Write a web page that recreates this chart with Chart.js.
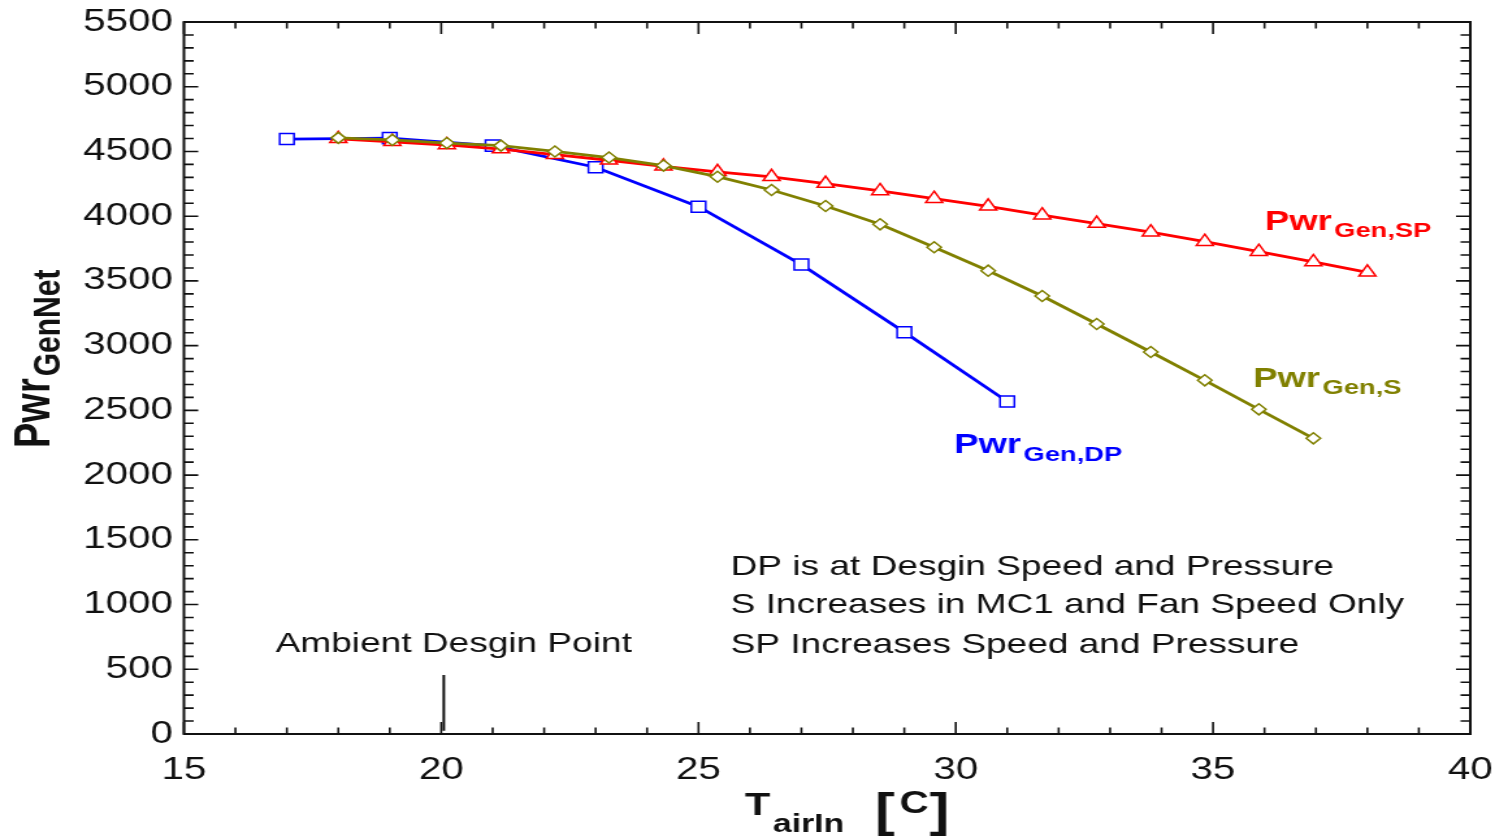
<!DOCTYPE html>
<html>
<head>
<meta charset="utf-8">
<script src="https://cdn.jsdelivr.net/npm/chart.js@4.4.1/dist/chart.umd.min.js"></script>
<style>
  html, body { margin: 0; padding: 0; background: #fff; overflow: hidden; }
  /* the reference is stretched sideways, so draw narrower and stretch */
  #wrap { width: 1152px; height: 837px; transform: scaleX(1.3); transform-origin: 0 0; }
</style>
</head>
<body>
<div id="wrap"><canvas id="pwrChart" width="1152" height="837"></canvas></div>
<script>
// air inlet temperature [C] and net generator power
const dpT = [17, 19, 21, 23, 25, 27, 29, 31];
const dpPwr = [4596, 4603, 4545, 4378, 4073, 3626, 3104, 2568];

const sT = [18, 19.05, 20.11, 21.16, 22.21, 23.26, 24.32, 25.37, 26.42, 27.47,
  28.53, 29.58, 30.63, 31.68, 32.74, 33.79, 34.84, 35.89, 36.95];
const sPwr = [4605, 4589, 4565, 4545, 4500, 4453, 4391, 4305, 4202, 4079,
  3937, 3760, 3579, 3383, 3167, 2951, 2732, 2508, 2284];

const spT = [18, 19.05, 20.11, 21.16, 22.21, 23.26, 24.32, 25.37, 26.42, 27.47,
  28.53, 29.58, 30.63, 31.68, 32.74, 33.79, 34.84, 35.89, 36.95, 38];
const spPwr = [4598, 4575, 4550, 4518, 4475, 4432, 4385, 4343, 4304, 4252,
  4195, 4135, 4076, 4008, 3943, 3876, 3803, 3726, 3647, 3566];

// ambient design point marker
const ambientT = [20.05, 20.05];
const ambientPwr = [25, 455];

const xTicks = [15, 20, 25, 30, 35, 40];
const yTicks = [0, 500, 1000, 1500, 2000, 2500, 3000, 3500, 4000, 4500, 5000, 5500];

const notes = [
  "DP is at Desgin Speed and Pressure",
  "S Increases in MC1 and Fan Speed Only",
  "SP Increases Speed and Pressure",
];

const FONT = '"Liberation Sans", Arial, sans-serif';

const toPts = (xs, ys) => xs.map((v, i) => ({ x: v, y: ys[i] }));

// text with a subscript, returns end x
const drawSub = (ctx, x, y, main, sub, mainSize, subSize, drop) => {
  ctx.font = `bold ${mainSize}px ${FONT}`;
  ctx.fillText(main, x, y);
  const w = ctx.measureText(main).width;
  ctx.font = `bold ${subSize}px ${FONT}`;
  ctx.fillText(sub, x + w + 2, y + drop);
  return x + w + 2 + ctx.measureText(sub).width;
};

const noPad = (s) => {
  s.paddingTop = 0;
  s.paddingBottom = 0;
  s.paddingLeft = 0;
  s.paddingRight = 0;
};

const frameAndText = {
  id: "frameAndText",
  afterDatasetsDraw(chart) {
    const { ctx, chartArea: a, scales } = chart;
    const x = scales.x, y = scales.y;
    ctx.save();
    ctx.strokeStyle = "#111";
    ctx.lineWidth = 1.6;

    // inward ticks on all four sides
    ctx.beginPath();
    for (let v = 15; v <= 40; v += 1) {
      const px = x.getPixelForValue(v);
      const len = v % 5 === 0 ? 12 : 6.5;
      ctx.moveTo(px, a.bottom); ctx.lineTo(px, a.bottom - len);
      ctx.moveTo(px, a.top); ctx.lineTo(px, a.top + len);
    }
    for (let v = 0; v <= 5500; v += 100) {
      const py = y.getPixelForValue(v);
      const len = v % 500 === 0 ? 11 : 7.5;
      ctx.moveTo(a.left, py); ctx.lineTo(a.left + len, py);
      ctx.moveTo(a.right, py); ctx.lineTo(a.right - len, py);
    }
    ctx.stroke();

    ctx.lineWidth = 2;
    ctx.strokeRect(a.left, a.top, a.right - a.left, a.bottom - a.top);

    ctx.textBaseline = "alphabetic";
    ctx.textAlign = "left";

    // curve labels
    ctx.fillStyle = "#ff0000";
    drawSub(ctx, 973, 230, "Pwr", "Gen,SP", 28, 21, 7);
    ctx.fillStyle = "#808000";
    drawSub(ctx, 964, 387, "Pwr", "Gen,S", 28, 21, 7);
    ctx.fillStyle = "#0000ff";
    drawSub(ctx, 734, 453, "Pwr", "Gen,DP", 28, 21, 8);

    // notes
    ctx.fillStyle = "#111";
    ctx.font = `28.5px ${FONT}`;
    ctx.fillText(notes[0], 562, 575);
    ctx.fillText(notes[1], 562, 613);
    ctx.fillText(notes[2], 562, 653);
    ctx.fillText("Ambient Desgin Point", 212, 652);

    // x axis title
    drawSub(ctx, 573, 815, "T", "airIn", 32, 26, 17);
    ctx.font = `bold 46px ${FONT}`;
    ctx.fillText("[", 673, 826);
    ctx.font = `bold 31px ${FONT}`;
    ctx.fillText("C", 692, 813);
    ctx.font = `bold 46px ${FONT}`;
    ctx.fillText("]", 715, 826);

    // y axis title
    ctx.save();
    ctx.translate(38, 448);
    ctx.rotate(-Math.PI / 2);
    drawSub(ctx, 0, 0, "Pwr", "GenNet", 38, 30, 8);
    ctx.restore();

    ctx.restore();
  },
};

const ctx = document.getElementById("pwrChart");

new Chart(ctx, {
  type: "scatter",
  data: {
    datasets: [
      {
        label: "PwrGen,S",
        data: toPts(sT, sPwr),
        showLine: true,
        borderColor: "#808000",
        borderWidth: 2.8,
        pointStyle: "rectRot",
        pointRadius: 5.5,
        pointBorderWidth: 1.5,
        pointBackgroundColor: "#ffffff",
        pointBorderColor: "#808000",
        order: 0,
      },
      {
        label: "PwrGen,SP",
        data: toPts(spT, spPwr),
        showLine: true,
        borderColor: "#ff0000",
        borderWidth: 2.8,
        pointStyle: "triangle",
        pointRadius: 7.5,
        pointBorderWidth: 1.5,
        pointBackgroundColor: "#ffffff",
        pointBorderColor: "#ff0000",
        order: 1,
      },
      {
        label: "PwrGen,DP",
        data: toPts(dpT, dpPwr),
        showLine: true,
        borderColor: "#0000ff",
        borderWidth: 2.8,
        pointStyle: "rect",
        pointRadius: 7.8,
        pointBorderWidth: 1.5,
        pointBackgroundColor: "#ffffff",
        pointBorderColor: "#0000ff",
        order: 2,
      },
      {
        label: "Ambient",
        data: toPts(ambientT, ambientPwr),
        showLine: true,
        borderColor: "#111",
        borderWidth: 2,
        pointRadius: 0,
        order: 3,
      },
    ],
  },
  options: {
    responsive: false,
    animation: false,
    events: [],
    layout: { padding: { top: 22, right: 21, left: 0, bottom: 0 } },
    plugins: {
      legend: { display: false },
      tooltip: { enabled: false },
    },
    scales: {
      x: {
        type: "linear",
        min: 15,
        max: 40,
        grid: { display: false, drawTicks: false },
        border: { display: false },
        afterBuildTicks: (s) => { s.ticks = xTicks.map((v) => ({ value: v })); },
        afterFit: (s) => { s.height = 103; noPad(s); },
        ticks: {
          padding: 18,
          color: "#111",
          font: { family: FONT, size: 31 },
          maxRotation: 0,
          callback: (v) => String(v),
        },
      },
      y: {
        type: "linear",
        min: 0,
        max: 5500,
        grid: { display: false, drawTicks: false },
        border: { display: false },
        afterBuildTicks: (s) => { s.ticks = yTicks.map((v) => ({ value: v })); },
        afterFit: (s) => { s.width = 141.5; noPad(s); },
        ticks: {
          padding: 8.5,
          color: "#111",
          font: { family: FONT, size: 31 },
          callback: (v) => String(v),
        },
      },
    },
  },
  plugins: [frameAndText],
});
</script>
</body>
</html>
